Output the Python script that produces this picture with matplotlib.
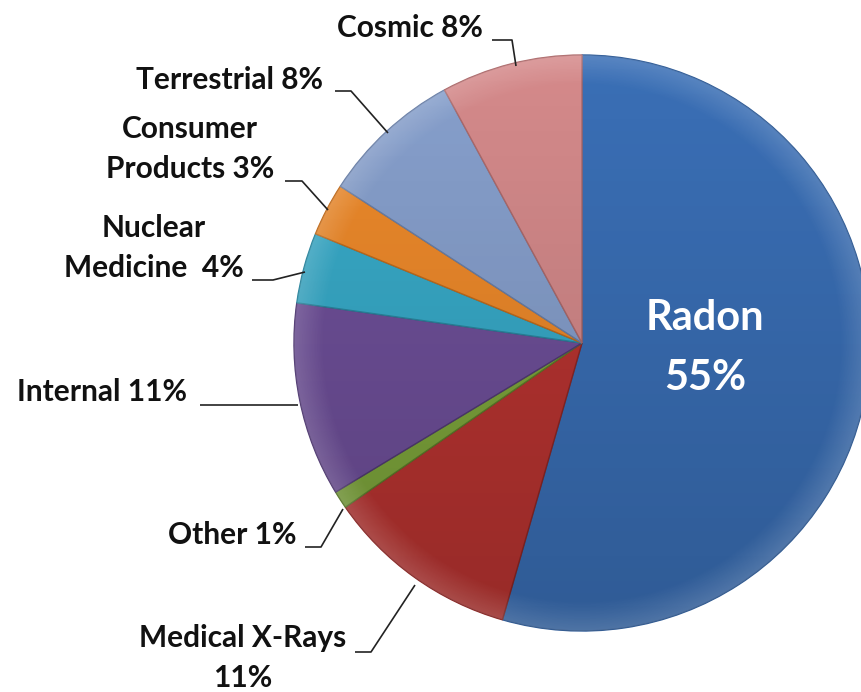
import matplotlib
matplotlib.use("Agg")
import matplotlib.pyplot as plt
import numpy as np
from matplotlib.patches import Circle

# ---- data ----
categories = ["Radon", "Medical X-Rays", "Other", "Internal", "Nuclear Medicine",
              "Consumer Products", "Terrestrial", "Cosmic"]
values = [55, 11, 1, 11, 4, 3, 8, 8]
label_texts = ["Radon\n55%", "Medical X-Rays\n11%", "Other 1%", "Internal 11%",
               "Nuclear\nMedicine  4%", "Consumer\nProducts 3%", "Terrestrial 8%", "Cosmic 8%"]
colors = ["#3a6fb6", "#b93431", "#7ea63c", "#6f509a", "#38abc9",
          "#ee8a2b", "#87a0cd", "#d58a8b"]
edge_colors = ["#2d5a96", "#8e2624", "#5d7d2a", "#523a75", "#2a87a0",
               "#c26c1c", "#6a80a8", "#ad6a6b"]

# ---- layout (pixel coordinates) ----
W, H = 861, 692
CX, CY, R = 582, 343, 288

fig = plt.figure(figsize=(W / 100, H / 100), dpi=100)
ax = fig.add_axes([0, 0, 1, 1])

wedges, _ = ax.pie(values, colors=colors, startangle=-90, counterclock=True,
                   center=(CX, CY), radius=R, frame=True,
                   wedgeprops=dict(linewidth=1.0))
for w, ec in zip(wedges, edge_colors):
    w.set_edgecolor(ec)

# subtle shading overlay clipped to pie
yy, xx = np.mgrid[0:1:200j, 0:1:200j]
shade = np.zeros((200, 200, 4))
shade[..., 3] = 0.18 * yy
img = ax.imshow(shade, extent=(CX - R, CX + R, CY + R, CY - R), zorder=3,
                interpolation="bilinear")
img.set_clip_path(Circle((CX, CY), R, transform=ax.transData))
hi = np.zeros((200, 200, 4))
hi[..., :3] = 1.0
rr = np.sqrt((xx - 0.5) ** 2 + (yy - 0.5) ** 2) * 2
hi[..., 3] = np.clip((rr - 0.9) / 0.1, 0, 1) * 0.15
img2 = ax.imshow(hi, extent=(CX - R, CX + R, CY + R, CY - R), zorder=3,
                 interpolation="bilinear")
img2.set_clip_path(Circle((CX, CY), R, transform=ax.transData))

ax.set_xlim(0, W)
ax.set_ylim(H, 0)
ax.set_aspect("equal")
ax.axis("off")

fam = ["Lato", "DejaVu Sans"]

# Radon label inside
ax.text(705, 348, label_texts[0], ha="center", va="center", color="white",
        fontsize=30, fontweight="bold", family=fam,
        linespacing=1.72, zorder=5)

# outside labels: (text center x, text center y, leader polyline)
outside = {
    "Cosmic": (410, 28, [(492, 40), (512, 40), (516, 66)]),
    "Terrestrial": (230, 80, [(335, 91), (351, 91), (388, 133)]),
    "Consumer Products": (190, 149, [(285, 181), (302, 181), (328, 210)]),
    "Nuclear Medicine": (154, 248, [(252, 280), (273, 280), (305, 272)]),
    "Internal": (102, 392, [(200, 405), (298, 405)]),
    "Other": (232, 535, [(305, 547), (321, 547), (343, 509)]),
    "Medical X-Rays": (243, 658, [(355, 652), (371, 652), (415, 585)]),
}
for cat, txt in zip(categories, label_texts):
    if cat not in outside:
        continue
    x, y, pts = outside[cat]
    ax.text(x, y, txt, ha="center", va="center", fontsize=21.5, linespacing=1.55,
            zorder=5, family=fam, fontweight="bold", color="#111111")
    px, py = zip(*pts)
    ax.plot(px, py, color="#222222", lw=1.2, zorder=4, solid_capstyle="butt")

fig.savefig("out.png", dpi=100)
